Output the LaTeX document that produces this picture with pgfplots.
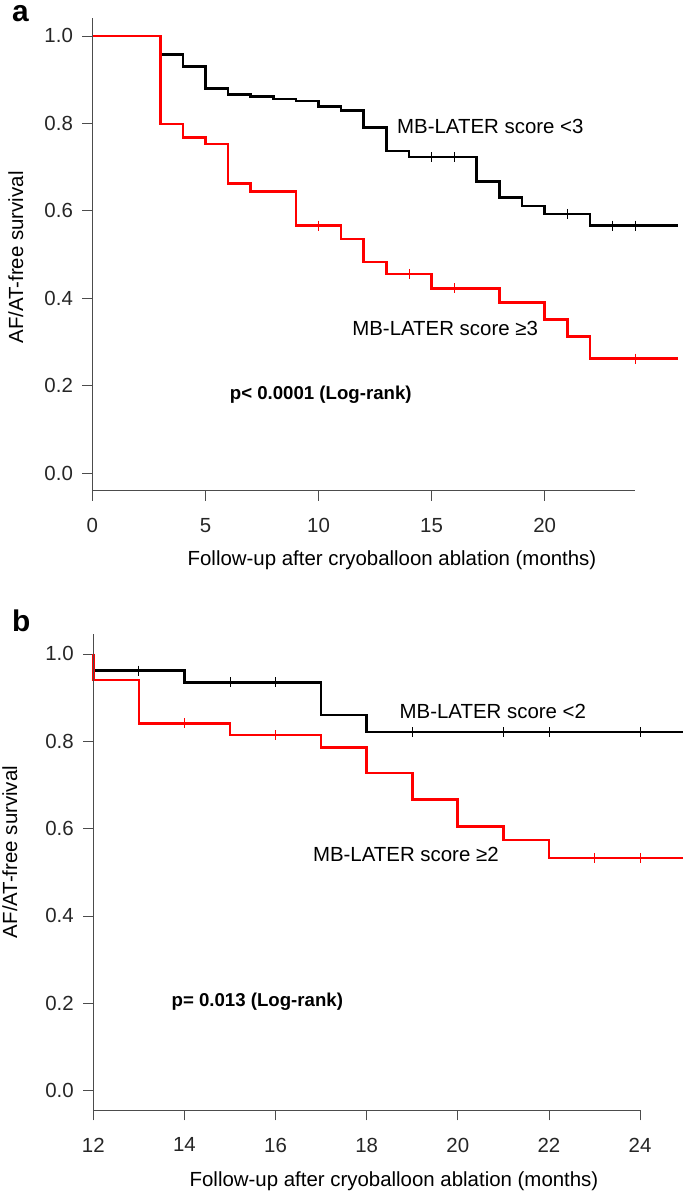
\documentclass[border=0pt]{standalone}
\usepackage{fontspec}
\setmainfont{Liberation Sans}
\usepackage{pgfplots}
\pgfplotsset{compat=1.18}

\pgfplotsset{
  km/.style={
    scale only axis,
    axis lines=left,
    axis line style={draw=none},
    clip=false,
    tick align=outside,
    major tick length=10bp,
    tick style={black!70, line width=0.8bp},
    /pgf/number format/assume math mode=true,
    tick label style={font=\fontsize{20.5}{24}\selectfont, text=black!85},
    xticklabel style={yshift=-14bp},
    yticklabel style={xshift=-6bp},
    yticklabel={\pgfmathprintnumber[fixed,fixed zerofill,precision=1]{\tick}},
    ytick={0,0.2,0.4,0.6,0.8,1.0},
    ymin=-0.04, ymax=1.04,
  },
  surv/.style={const plot, line width=2.6bp, #1},
  cens/.style={only marks, mark=|, mark size=5bp, #1, mark options={line width=0.8bp}},
}

\begin{document}
\begin{tikzpicture}[x=1bp,y=1bp]
\useasboundingbox (0,0) rectangle (685,1194);

% ---- panel a
\begin{axis}[km, at={(92.4bp,703.3bp)}, anchor=south west,
    width=585.6bp, height=472.2bp,
    xmin=0, xmax=25.9, xtick={0,5,10,15,20}]
  \addplot[surv=black] coordinates {
    (0,1.0)(3,0.958)(4,0.930)(5,0.880)(6,0.866)(7,0.861)(8,0.856)(9,0.851)
    (10,0.838)(11,0.829)(12,0.791)(13,0.737)(14,0.723)(17,0.667)(18,0.631)
    (19,0.611)(20,0.593)(22,0.566)(25.9,0.566)};
  \addplot[cens=black] coordinates {
    (15,0.723)(16,0.723)(21,0.593)(23,0.566)(24,0.566)};
  \addplot[surv=red] coordinates {
    (0,1.0)(3,0.799)(4,0.768)(5,0.753)(6,0.662)(7,0.644)(9,0.566)(11,0.536)
    (12,0.483)(13,0.456)(15,0.423)(18,0.391)(20,0.352)(21,0.312)(22,0.262)(25.9,0.262)};
  \addplot[cens=red] coordinates {
    (10,0.566)(14,0.456)(16,0.423)(24,0.262)};
  \draw[black!70, line width=0.8bp] (axis cs:0,-0.04) -- (axis cs:24,-0.04);
  \draw[black!70, line width=0.8bp] (axis cs:0,-0.04) -- (axis cs:0,1.04);
  \node[font=\fontsize{20.5}{24}\selectfont] at (axis cs:17.6,0.792) {MB-LATER score <3};
  \node[font=\fontsize{20.5}{24}\selectfont] at (axis cs:15.6,0.330) {MB-LATER score ≥3};
  \node[font=\bfseries\fontsize{18.7}{22}\selectfont] at (axis cs:10.1,0.180) {p< 0.0001 (Log-rank)};
\end{axis}
\node[anchor=base west, inner sep=0pt, font=\bfseries\fontsize{30}{30}\selectfont] at (12,1172) {a};
\node[rotate=90, anchor=base, inner sep=0pt, font=\fontsize{20.5}{24}\selectfont] at (23,936.5) {AF/AT-free survival};
\node[font=\fontsize{20.5}{24}\selectfont] at (392,634) {Follow-up after cryoballoon ablation (months)};

% ---- panel b
\begin{axis}[km, at={(93.3bp,83.7bp)}, anchor=south west,
    width=590bp, height=476bp,
    ymin=-0.045, ymax=1.045,
    xmin=12, xmax=24.95, xtick={12,14,...,24}]
  \addplot[surv=black] coordinates {
    (12,1.0)(12,0.962)(14,0.935)(17,0.860)(18,0.821)(24.95,0.821)};
  \addplot[cens=black] coordinates {
    (13,0.962)(15,0.935)(16,0.935)(19,0.821)(21,0.821)(22,0.821)(24,0.821)};
  \addplot[surv=red] coordinates {
    (12,1.0)(12,0.940)(13,0.841)(15,0.814)(17,0.786)(18,0.727)(19,0.666)
    (20,0.605)(21,0.574)(22,0.533)(24.95,0.533)};
  \addplot[cens=red] coordinates {
    (14,0.841)(16,0.814)(23,0.533)(24,0.533)};
  \draw[black!70, line width=0.8bp] (axis cs:12,-0.045) -- (axis cs:24,-0.045);
  \draw[black!70, line width=0.8bp] (axis cs:12,-0.045) -- (axis cs:12,1.045);
  \node[font=\fontsize{20.5}{24}\selectfont] at (axis cs:20.77,0.869) {MB-LATER score <2};
  \node[font=\fontsize{20.5}{24}\selectfont] at (axis cs:18.86,0.541) {MB-LATER score ≥2};
  \node[font=\bfseries\fontsize{18.7}{22}\selectfont] at (axis cs:15.6,0.204) {p= 0.013 (Log-rank)};
\end{axis}
\node[anchor=base west, inner sep=0pt, font=\bfseries\fontsize{30}{30}\selectfont] at (12,562) {b};
\node[rotate=90, anchor=base, inner sep=0pt, font=\fontsize{20.5}{24}\selectfont] at (17,342) {AF/AT-free survival};
\node[font=\fontsize{20.5}{24}\selectfont] at (394,12.3) {Follow-up after cryoballoon ablation (months)};
\end{tikzpicture}
\end{document}
